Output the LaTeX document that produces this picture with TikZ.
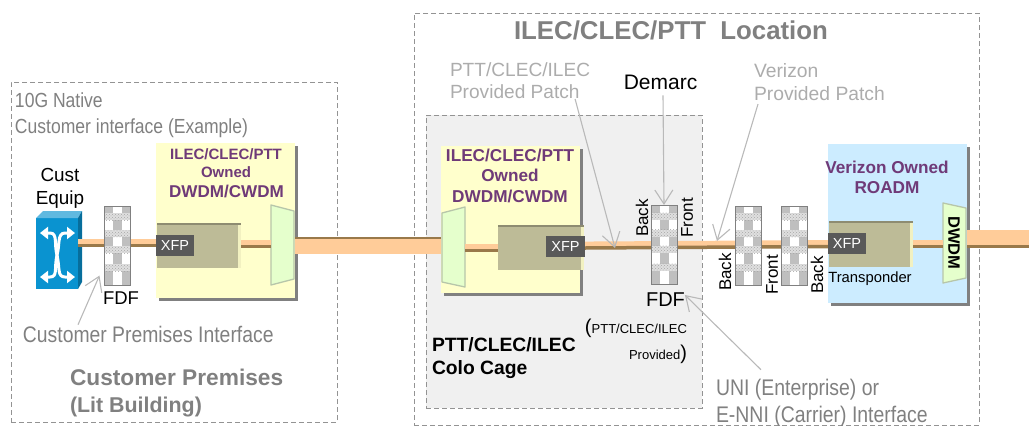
\documentclass[tikz,border=0pt]{standalone}
\usepackage{fontspec}
\setmainfont{Liberation Sans}
\newfontfamily\narrowsans[FakeStretch=0.86]{Liberation Sans}
\usetikzlibrary{arrows.meta,shadows,patterns}
\definecolor{paleyellow}{HTML}{FFFFCC}
\definecolor{paleblue}{HTML}{CCECFF}
\definecolor{oliveblock}{HTML}{BDBB97}
\definecolor{fibreorange}{HTML}{FFCC99}
\definecolor{fibrebrown}{HTML}{99794A}
\definecolor{muxgreen}{HTML}{E5FFCC}
\definecolor{ownerpurple}{HTML}{6F3A78}
\definecolor{cubeblue}{HTML}{0A93D0}
\newcommand{\fs}[2]{\fontsize{#1}{#2}\selectfont}
\tikzset{
  txt/.style={inner sep=0pt,outer sep=0pt},
  greytxt/.style={txt,text=gray},
  paletxt/.style={txt,text=gray!65,align=left,anchor=west},
  ownertxt/.style={txt,text=ownerpurple,font=\bfseries,align=center},
  sidetxt/.style={txt,rotate=90,font=\fs{17}{17}},
  zone/.style={draw=gray!85,dashed,dash pattern=on 5pt off 3pt,line width=0.8pt,inner sep=0pt},
  equipbox/.style={inner sep=0pt,drop shadow={shadow xshift=3pt,shadow yshift=-3pt,fill=gray,opacity=1}},
  olive/.style={fill=oliveblock,inner sep=0pt,path picture={
    \fill[paleyellow!80!oliveblock] ([xshift=-3pt]path picture bounding box.north east) rectangle (path picture bounding box.south east);
    \fill[oliveblock!75!black] (path picture bounding box.north west) rectangle ([yshift=-2pt]path picture bounding box.north east);}},
  xfp/.style={fill=gray!70!black,text=white,inner sep=0pt,minimum width=38,minimum height=21,font=\fs{14.5}{14.5}},
  mux/.style={fill=muxgreen,draw=gray!45!muxgreen,line width=1.3pt,line join=round},
  fdf/.style={draw=gray,line width=1pt,fill=white,inner sep=0pt,minimum width=26,minimum height=79,path picture={
    \begin{scope}[shift={(path picture bounding box.center)}]
      % dark blocks of the panel
      \foreach \ya/\yb in {-39/-32.5,-8.5/0.5,25.5/39} {
        \fill[gray!50] (-13,\ya) rectangle (-4.5,\yb);
        \fill[gray!50] (4.5,\ya) rectangle (13,\yb);
      }
      \foreach \ya/\yb in {-25.5/-15.5,7.5/18.5}
        \fill[gray!50] (-4.5,\ya) rectangle (4.5,\yb);
      % dotted bands
      \foreach \yc in {-29,-12,4,22} {
        \fill[gray!25] (-13,\yc-3.5) rectangle (13,\yc+3.5);
        \fill[pattern=crosshatch dots,pattern color=gray!70] (-13,\yc-3.5) rectangle (13,\yc+3.5);
      }
    \end{scope}}},
  thinfibre/.style={draw=fibrebrown,line width=3.5pt,preaction={draw=fibreorange,line width=5.5pt,transform canvas={yshift=3.7pt}}},
  bigfibre/.style={draw=fibreorange,line width=15pt},
  brownline/.style={draw=fibrebrown,line width=2.5pt},
  callout/.style={draw=gray!55,line width=1.1pt,-{Straight Barb[length=14pt,width=18pt]}},
  xarrow/.style={draw=white,line width=3pt,{Triangle[width=12pt,length=8pt]}-{Triangle[width=12pt,length=8pt]}}
}
\begin{document}
\begin{tikzpicture}[x=1pt,y=-1pt]
\useasboundingbox (0,0) rectangle (1029,426);

% Zones
\node[zone,minimum width=326,minimum height=340] (premises) at (174,252) {};
\node[zone,minimum width=565,minimum height=412] (location) at (696.5,219) {};
\node[zone,fill=gray!12,minimum width=276,minimum height=293] (cage) at (564,261.5) {};

% Equipment boxes
\node[equipbox,fill=paleyellow,minimum width=139,minimum height=155] (ownera) at (225.5,220.5) {};
\node[equipbox,fill=paleyellow,minimum width=139,minimum height=147] (ownerb) at (510.5,219.5) {};
\node[equipbox,fill=paleblue,minimum width=139,minimum height=159] (roadm) at (897.5,223.5) {};

% Transponder blocks
\node[olive,minimum width=84,minimum height=45] (blocka) at (199,245.5) {};
\node[olive,minimum width=86,minimum height=45] (blockb) at (541,247.5) {};
\node[olive,minimum width=84,minimum height=46] (blockc) at (871,244) {};
\node[xfp] (xfpa) at (175,245.5) {XFP};
\node[xfp,minimum width=39] (xfpb) at (565.5,246.5) {XFP};
\node[xfp] (xfpc) at (847,243.5) {XFP};

% Filters
\draw[mux] (271,205) -- (294,211) -- (294,279) -- (271,285) -- cycle;
\draw[mux] (442,213) -- (465,207) -- (465,287) -- (442,282) -- cycle;
\draw[mux] (943,203) -- (966,208) -- (966,278) -- (943,283) -- cycle;
\coordinate (muxain) at (271,246);
\coordinate (muxaout) at (295,246);
\coordinate (muxbout) at (441,246);
\coordinate (muxbin) at (465,250.5);
\coordinate (muxcin) at (943,246.5);
\coordinate (muxcout) at (967,237.5);
\coordinate (rightedge) at (1029,237.5);
\node[txt,rotate=-90,font=\bfseries\fs{16.5}{16.5}] (dwdm) at (954,243) {DWDM};

% Customer equipment
\node[fill=cubeblue,inner sep=0pt,minimum width=42,minimum height=71] (cust) at (57,253.5) {};
\fill[cubeblue!65!white] (36,218) -- (43,211) -- (82,211) -- (78,218) -- cycle;
\fill[cubeblue!75!black] (78,218) -- (82,211) -- (82,282) -- (78,289) -- cycle;
\draw[xarrow] (40,233) -- (50,233) .. controls (58,233) and (54,245) .. (57,255) .. controls (60,268) and (57,277) .. (65,277) -- (75,277);
\draw[xarrow] (75,233) -- (65,233) .. controls (57,233) and (60,245) .. (57,255) .. controls (54,268) and (58,277) .. (50,277) -- (40,277);

% Fibres
\draw[thinfibre] (cust.east |- xfpa.west) -- (xfpa.west);
\draw[thinfibre] ([yshift=-1pt]blocka.east) -- ([yshift=-1pt]blocka.east -| muxain);
\draw[bigfibre] (muxaout) -- (muxbout);
\draw[brownline] (muxaout |- 0,238) -- (muxbout |- 0,238);
\draw[thinfibre] (muxbin) -- (muxbin -| blockb.west);
\draw[thinfibre] ([yshift=-1.5pt]xfpb.east) -- ([yshift=-3pt]xfpc.west);
\draw[thinfibre] (blockc.east |- muxcin) -- (muxcin);
\draw[bigfibre] (muxcout) -- (rightedge);
\draw[brownline] (muxcout |- 0,246.5) -- (rightedge |- 0,246.5);

% FDF panels
\node[fdf] (fdfa) at (117,245.5) {};
\node[fdf] (fdfb) at (664,245) {};
\node[fdf] (fdfc) at (748,245.5) {};
\node[fdf] (fdfd) at (794,245.5) {};

% Labels
\node[greytxt,anchor=west,align=left,font=\narrowsans\fs{20.4}{25.5}] (native) at (15,115) {10G Native\\Customer interface (Example)};
\node[txt,align=center,font=\fs{18.9}{23}] (custlabel) at (60,188.5) {Cust\\Equip};
\node[txt,font=\fs{18.5}{18.5}] (fdflabela) at (121,298) {FDF};
\node[greytxt,anchor=west,font=\narrowsans\fs{22.5}{22.5}] (custif) at (23,334) {Customer Premises Interface};
\node[greytxt,anchor=west,align=left,font=\bfseries\fs{22.7}{27}] (premlabel) at (70,393.5) {Customer Premises\\{\fs{21.4}{27}(Lit Building)}};
\node[greytxt,anchor=west,font=\bfseries\fs{25.8}{25.8}] (loclabel) at (514,30) {ILEC/CLEC/PTT\ \ Location};
\node[paletxt,font=\fs{19.1}{22}] (patchl) at (450,81) {PTT/CLEC/ILEC\\Provided Patch};
\node[txt,font=\fs{21}{21}] (demarc) at (660.5,82) {Demarc};
\node[paletxt,font=\fs{19.3}{23}] (patchr) at (754,82.5) {Verizon\\Provided Patch};
\node[ownertxt,font=\bfseries\fs{15}{18}] (ownlabela) at (226,163) {ILEC/CLEC/PTT\\Owned};
\node[ownertxt,font=\bfseries\fs{17.1}{17.1}] (dwdmlabela) at (226.5,191) {DWDM/CWDM};
\node[ownertxt,font=\bfseries\fs{17.2}{20.5}] (ownlabelb) at (510,175.5) {ILEC/CLEC/PTT\\Owned\\DWDM/CWDM};
\node[ownertxt,font=\bfseries\fs{17.2}{20}] (roadmlabel) at (887,177) {Verizon Owned\\ROADM};
\node[txt,font=\fs{14.8}{14.8}] (transp) at (870,279) {Transponder};
\node[sidetxt] (backb) at (642,218) {Back};
\node[sidetxt] (frontb) at (687,218) {Front};
\node[sidetxt] (backc) at (725,272) {Back};
\node[sidetxt] (frontc) at (772,275) {Front};
\node[sidetxt] (backd) at (817,275) {Back};
\node[txt,font=\fs{20}{20}] (fdflabelb) at (665.5,300) {FDF};
\node[txt,anchor=east] (provideda) at (687,328) {\fs{20}{20}(\fs{13}{13}PTT/CLEC/ILEC};
\node[txt,anchor=east] (providedb) at (687,354) {\fs{13}{13}Provided\fs{20}{20})};
\node[txt,anchor=west,align=left,font=\bfseries\fs{19.3}{23}] (cagelabel) at (432,358.5) {PTT/CLEC/ILEC\\Colo Cage};
\node[greytxt,anchor=west,align=left,font=\narrowsans\fs{22.6}{27.5}] (uni) at (716,403) {UNI (Enterprise) or\\E-NNI (Carrier) Interface};

% Callouts
\coordinate (tappatch) at (615,248);
\coordinate (tapverizon) at (717,241);
\draw[callout] ([xshift=55pt,yshift=1pt]custif.north west) -- ([xshift=-4pt,yshift=10pt]fdfa.south west);
\draw[callout] ([xshift=-15pt]patchl.south east) -- (tappatch);
\draw[callout] ([xshift=2.5pt,yshift=-6pt]demarc.south) -- (fdfb.north);
\draw[callout] ([xshift=4pt,yshift=-3pt]patchr.south west) -- (tapverizon);
\draw[callout] ([xshift=45pt,yshift=9pt]uni.north west) -- ([yshift=5pt]fdflabelb.east);
\end{tikzpicture}
\end{document}
